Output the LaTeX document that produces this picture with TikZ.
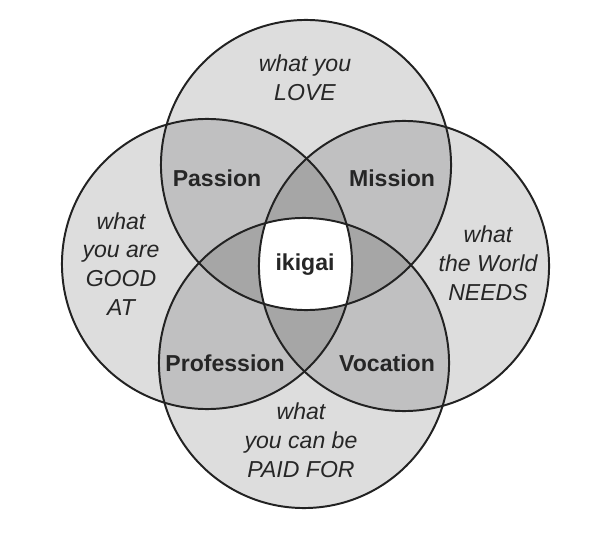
\documentclass[tikz,border=0pt]{standalone}
\usepackage{fontspec}
\setmainfont{Liberation Sans}
\definecolor{outergray}{RGB}{221,221,221}
\definecolor{petalgray}{RGB}{192,192,193}
\definecolor{lensgray}{RGB}{166,166,166}
\definecolor{rimgray}{RGB}{34,34,34}
\def\rad{3.625cm}
\tikzset{
        outer/.style={fill=outergray},
        petal/.style={fill=petalgray},
        lens/.style={fill=lensgray},
        core/.style={fill=white},
        rim/.style={draw=rimgray, line width=1.4pt},
        want/.style={align=center, text=black!85, font=\fontsize{16.4}{20.5}\selectfont\itshape, inner sep=0pt},
        zone/.style={align=center, text=black!85, font=\fontsize{16.4}{20}\selectfont\bfseries, inner sep=0pt}
          }

\begin{document}
\begin{tikzpicture}[x=0.025cm, y=-0.025cm]
            \useasboundingbox (0,0) rectangle (596,543);
            \coordinate (love) at (306,165);
            \coordinate (good) at (207,264);
            \coordinate (needs) at (404,266);
            \coordinate (paid) at (304,363);
            % one circle
            \foreach \c in {love,good,needs,paid}
              \fill[outer] (\c) circle[radius=\rad];
            % two circles
            \foreach \a/\b in {love/good,love/needs,paid/good,paid/needs,love/paid,good/needs}{
              \begin{scope}
                \clip (\a) circle[radius=\rad];
                \fill[petal] (\b) circle[radius=\rad];
              \end{scope}
            }
            % three circles
            \foreach \a/\b/\c in {love/good/needs,paid/good/needs,love/paid/good,love/paid/needs}{
              \begin{scope}
                \clip (\a) circle[radius=\rad];
                \clip (\b) circle[radius=\rad];
                \fill[lens] (\c) circle[radius=\rad];
              \end{scope}
            }
            % all four
            \begin{scope}
              \clip (love) circle[radius=\rad];
              \clip (good) circle[radius=\rad];
              \clip (needs) circle[radius=\rad];
              \fill[core] (paid) circle[radius=\rad];
            \end{scope}
            \foreach \c in {love,good,needs,paid}
              \draw[rim] (\c) circle[radius=\rad];

            \node[want] (lovetext) at (305,78) {what you\\LOVE};
            \node[want] (goodtext) at (121,264) {what\\you are\\GOOD\\AT};
            \node[want] (needstext) at (488,263) {what\\the World\\NEEDS};
            \node[want] (paidtext) at (301,440) {what\\you can be\\PAID FOR};

            \node[zone] (passion) at (217,178) {Passion};
            \node[zone] (mission) at (392,178) {Mission};
            \node[zone] (ikigai) at (305,265) {ikigai};
            \node[zone] (profession) at (225,363) {Profession};
            \node[zone] (vocation) at (387,363) {Vocation};
          \end{tikzpicture}
\end{document}
